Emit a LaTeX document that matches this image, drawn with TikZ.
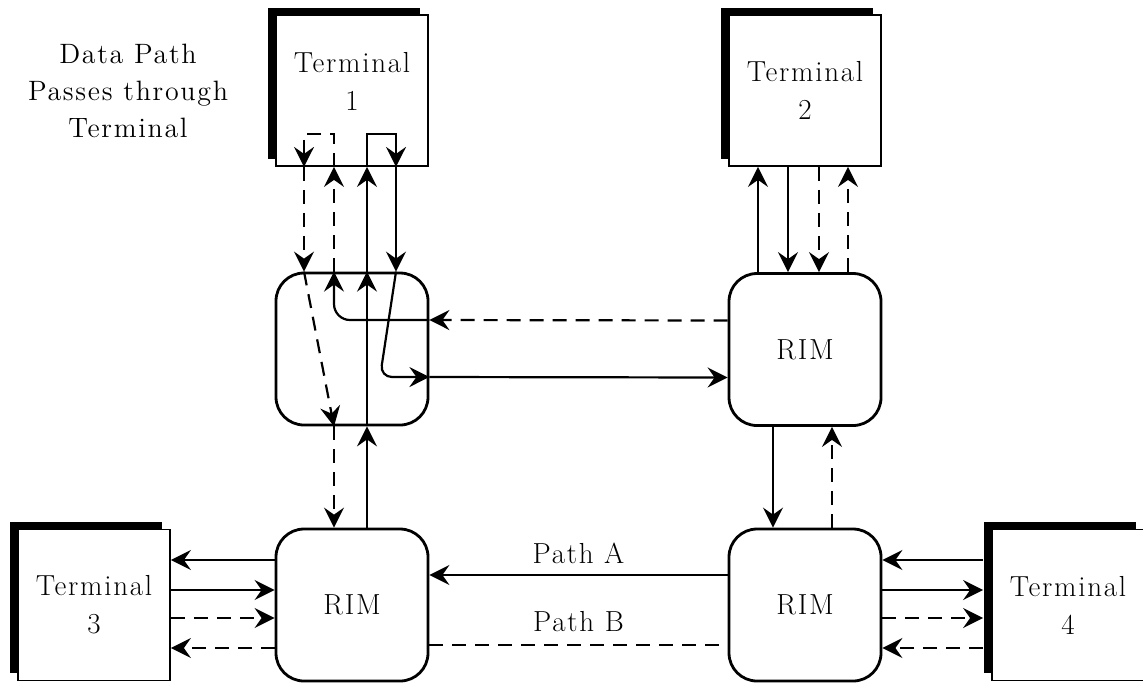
\documentclass[tikz,border=0pt]{standalone}
\usepackage{fontspec}
\setmainfont{Latin Modern Roman}[LetterSpace=6]
\usepackage{tikz}
\usetikzlibrary{arrows.meta,shadows}

\begin{document}
\begin{tikzpicture}[x=0.5pt,y=-0.5pt,
  font=\fontsize{14.5}{19}\selectfont,
  terminal/.style={draw, line width=0.9pt, fill=white, align=center,
    minimum width=76pt, minimum height=75.5pt, inner sep=0pt,
    general shadow={fill=black, shadow xshift=-4pt, shadow yshift=3.75pt}},
  rim/.style={draw, line width=1.4pt, rounded corners=14pt,
    minimum width=76pt, minimum height=76pt},
  wire/.style={line width=1.1pt},
  link/.style={wire, -{Stealth[length=10pt,width=10pt,inset=3.5pt]}},
  dashlink/.style={dash pattern=on 7pt off 4.5pt}]
  \useasboundingbox (0,0) rectangle (1143,682);

  % boxes
  \node[terminal] (t1) at (352,90.5) {Terminal\\1\\[-10pt]\mbox{}};
  \node[terminal] (t2) at (805,90.5) {Terminal\\2};
  \node[terminal] (t3) at (94,605) {Terminal\\3};
  \node[terminal] (t4) at (1068,605) {Terminal\\4};
  \node[rim] (rim1) at (352,349) {};
  \node[rim] (rim2) at (805,349.5) {RIM};
  \node[rim] (rim3) at (352,605) {RIM};
  \node[rim] (rim4) at (805,605) {RIM};
  \node[align=center, font=\fontsize{14}{18.5}\selectfont] (note) at (128,91)
    {Data Path\\Passes through\\Terminal};

  % terminal 1 and its loops
  \draw[link, dashlink] ([xshift=-24pt]t1.south) -- ([xshift=-24pt]rim1.north);
  \draw[link, dashlink] ([xshift=-9pt]rim1.north) -- ([xshift=-9pt]t1.south);
  \draw[link] ([xshift=7.5pt]rim1.north) -- ([xshift=7.5pt]t1.south);
  \draw[link] ([xshift=22pt]t1.south) -- ([xshift=22pt]rim1.north);
  \draw[link, dashlink] ([xshift=-9pt]t1.south) -- ++(0,-33) -| ([xshift=-24pt]t1.south);
  \draw[link] ([xshift=7.5pt]t1.south) -- ++(0,-33) -| ([xshift=22pt]t1.south);

  % through the first box
  \draw[link, dashlink] ([xshift=-24pt]rim1.north) -- ([xshift=-9pt]rim1.south);
  \draw[link] ([xshift=7.5pt]rim1.south) -- ([xshift=7.5pt]rim1.north);
  \draw[link, rounded corners=8pt] ([yshift=14.5pt]rim1.east) -| ([xshift=-9pt]rim1.north);
  \draw[link, rounded corners=6pt] ([xshift=22pt]rim1.north)
    -- ([xshift=14pt,yshift=-14pt]rim1.center) -- ([yshift=-14pt]rim1.east);

  % top row
  \draw[link, dashlink] ([yshift=14.5pt]rim2.west) -- ([yshift=14.5pt]rim1.east);
  \draw[link] ([yshift=-14pt]rim1.east) -- ([yshift=-14pt]rim2.west);

  % terminal 2
  \draw[link] ([xshift=-23.5pt]rim2.north) -- ([xshift=-23.5pt]t2.south);
  \draw[link] ([xshift=-8.5pt]t2.south) -- ([xshift=-8.5pt]rim2.north);
  \draw[link, dashlink] ([xshift=7pt]t2.south) -- ([xshift=7pt]rim2.north);
  \draw[link, dashlink] ([xshift=21.5pt]rim2.north) -- ([xshift=21.5pt]t2.south);

  % verticals
  \draw[link] ([xshift=-16pt]rim2.south) -- ([xshift=-16pt]rim4.north);
  \draw[link, dashlink] ([xshift=13.5pt]rim4.north) -- ([xshift=13.5pt]rim2.south);
  \draw[link, dashlink] ([xshift=-9pt]rim1.south) -- ([xshift=-9pt]rim3.north);
  \draw[link] ([xshift=7.5pt]rim3.north) -- ([xshift=7.5pt]rim1.south);

  % paths A and B
  \draw[link] ([yshift=15pt]rim4.west) -- node[above=2pt] {Path A} ([yshift=15pt]rim3.east);
  \draw[wire, dashlink] ([yshift=-20pt]rim3.east) -- node[above=3pt] {Path B} ([yshift=-20pt]rim4.west);

  % terminal 3
  \draw[link] ([yshift=22.5pt]rim3.west) -- ([yshift=22.5pt]t3.east);
  \draw[link] ([yshift=7.5pt]t3.east) -- ([yshift=7.5pt]rim3.west);
  \draw[link, dashlink] ([yshift=-6.5pt]t3.east) -- ([yshift=-6.5pt]rim3.west);
  \draw[link, dashlink] ([yshift=-21.5pt]rim3.west) -- ([yshift=-21.5pt]t3.east);

  % terminal 4
  \draw[link] ([xshift=-4pt,yshift=22.5pt]t4.west) -- ([yshift=22.5pt]rim4.east);
  \draw[link] ([yshift=7.5pt]rim4.east) -- ([xshift=-4pt,yshift=7.5pt]t4.west);
  \draw[link, dashlink] ([yshift=-6.5pt]rim4.east) -- ([xshift=-4pt,yshift=-6.5pt]t4.west);
  \draw[link, dashlink] ([xshift=-4pt,yshift=-21.5pt]t4.west) -- ([yshift=-21.5pt]rim4.east);
\end{tikzpicture}
\end{document}
